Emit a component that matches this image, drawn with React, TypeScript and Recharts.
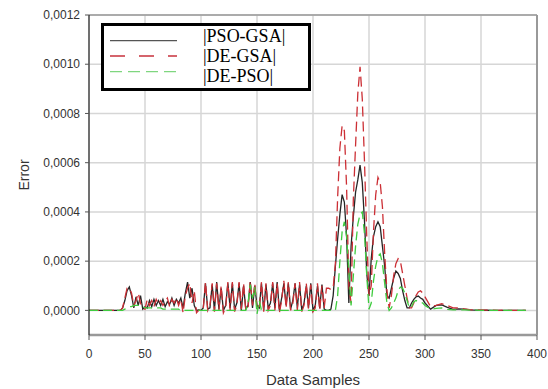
import {
  LineChart,
  Line,
  XAxis,
  YAxis,
  CartesianGrid,
  ReferenceLine,
  Label,
} from "recharts";

// sample index on the x axis
const samples = [
  0, 10, 20, 28,
  30, 32, 34, 36, 38, 40, 42, 44, 46, 48, 50, 52, 54, 56, 58, 60, 62, 64, 66, 68,
  70, 72, 74, 76, 78, 80, 82, 84, 86, 88, 90, 92, 94, 96, 98,
  100, 102, 104, 106, 108, 110, 112, 114, 116, 118, 120, 122, 124, 126, 128, 130,
  132, 134, 136, 138, 140, 142, 144, 146, 148, 150, 152, 154, 156, 158, 160, 162,
  164, 166, 168, 170, 172, 174, 176, 178, 180, 182, 184, 186, 188, 190, 192, 194,
  196, 198, 200, 202, 204, 206, 208, 210, 212, 214, 216, 218,
  220, 222, 224, 226, 228, 230, 232, 234, 236, 238, 240, 242, 244, 246, 248, 250,
  252, 254, 256, 258, 260, 262, 264, 266, 268, 270, 272, 274, 276, 278, 280, 282,
  284, 286, 288, 290, 292, 294, 296, 298, 300,
  305, 310, 315, 320, 325, 330, 335, 340, 345, 350, 355, 360, 365, 370, 375, 380,
  385, 390,
];

// errors, in units of 1e-4
const psoGsa = [
  0, 0, 0, 0,
  0.1, 0.4, 0.8, 0.95, 0.6, 0.1, 0.55, 0.2, 0.6, 0.05,
  0.15, 0.1, 0.4, 0.15, 0.45, 0.2, 0.4, 0.2, 0.45, 0.15,
  0.35, 0.25, 0.5, 0.2, 0.45, 0.3, 0.5, 0.1, 0.7, 1.15,
  0.5, 0.9, 0.2, 0, 0.02,
  0, 0.1, 1.1, 0.05, 0.1, 1.05, 0, 1.15, 0.05, 0.9,
  0, 0.2, 1.1, 0.1, 1.1, 0.05, 0.3, 1.1, 0, 1.0,
  0.05, 0.2, 1.15, 0.1, 1.0, 0.2, 0.1, 1.1, 0, 1.05,
  0.1, 0.3, 1.1, 0.1, 1.15, 0, 0.5, 1.1, 0.2, 1.1,
  0.05, 0.4, 1.1, 0.1, 1.05, 0, 0.3, 1.0, 0.1, 1.1,
  0, 0.2, 1.0, 0.1, 1.05, 0.05, 0, 0, 0.05, 0.6,
  1.8, 2.9, 3.9, 4.7, 4.4, 3.0, 0.3, 2.6, 3.8, 4.8,
  5.3, 5.9, 5.2, 3.6, 1.5, 0.6, 2.1, 3.0, 3.4, 3.6,
  3.4, 2.6, 1.8, 0.6, 0.5, 0.9, 1.3, 1.6, 1.5, 1.3,
  0.8, 0.4, 0.1, 0.1, 0.3, 0.45, 0.55, 0.58, 0.5, 0.45,
  0.3,
  0.05, 0.2, 0.22, 0.12, 0.04, 0.06, 0.05, 0.02, 0.01, 0, 0.01, 0, 0, 0, 0, 0, 0, 0,
];

const deGsa = [
  0, 0, 0, 0,
  0.1, 0.5, 0.9, 0.9, 0.7, 0.2, 0.4, 0.7, 0.3, 0.1,
  0.05, 0.45, 0.2, 0.4, 0.15, 0.45, 0.25, 0.4, 0.2, 0.35,
  0.5, 0.15, 0.45, 0.3, 0.5, 0.2, 0.45, -0.1, 0.6, 0.9,
  1.1, 0.3, 0.8, -0.1, 0,
  0, 0.05, 1.15, 0, 0.2, 1.1, -0.05, 1.1, 0, 1.0,
  -0.1, 0.1, 1.15, 0, 1.15, -0.05, 0.2, 1.15, 0.05, 1.1,
  0, 0.1, 1.2, 0.2, 1.1, 0.1, 0, 1.15, -0.05, 1.1,
  0, 0.2, 1.15, 0, 1.1, -0.1, 0.4, 1.2, 0.1, 1.15,
  0, 0.3, 1.1, 0, 1.15, -0.05, 0.2, 1.1, 0.05, 1.05,
  -0.05, 0.1, 1.1, 0, 1.0, 0.1, 0.9, 0.9, 0.85, 0.9,
  1.9, 4.6, 6.6, 7.5, 7.3, 5.0, 1.0, 0.3, 4.5, 6.7,
  8.8, 9.9, 8.6, 6.0, 3.0, 0.6, 1.0, 3.2, 4.7, 5.4,
  5.2, 4.2, 2.3, 0.8, 0.1, 0.6, 1.4, 1.9, 2.1, 2.0,
  1.5, 1.0, 0.5, 0.1, 0.1, 0.3, 0.6, 0.75, 0.8, 0.7,
  0.55,
  0.15, 0.2, 0.27, 0.2, 0.1, 0.1, 0.06, 0.03, 0.02, 0.02, 0.01, 0.01, 0, 0.01, 0, 0, 0, 0,
];

const dePso = [
  0, 0, 0, 0,
  0, 0.05, 0.1, 0.15, 0.15, 0.2, 0.2, 0.2, 0.2, 0.15,
  0.1, 0.1, 0.1, 0.1, 0.1, 0.1, 0.1, 0.1, 0.05, 0.05,
  0.05, 0.05, 0.05, 0.05, 0.05, 0.05, 0, 0, 0, 0,
  0, 0, 0, 0, 0,
  0, 0, 0, 0, 0, 0, 0, 0, 0, 0,
  0, 0, 0, 0, 0, 0, 0, 0, 0, 0,
  0, 0.3, 1.05, 0.5, 0.95, -0.15, 0.4, 0, 0, 0,
  0, 0, 0, 0, 0, 0, 0, 0, 0, 0,
  0, 0, 0, 0, 0, 0, 0, 0, 0, 0,
  0, 0, 0, 0, 0, 0, 0, 0, 0, 0,
  0, 0.6, 2.0, 3.2, 3.6, 3.0, 1.6, 0.2, 1.4, 2.6,
  3.5, 3.9, 4.0, 3.1, 1.4, 0.05, 0.3, 1.2, 1.8, 2.2,
  2.3, 1.9, 1.1, 0.3, 0, 0.1, 0.3, 0.5, 0.8, 0.95,
  0.9, 0.7, 0.4, 0.1, 0.15, 0.35, 0.4, 0.38, 0.34, 0.3,
  0.2,
  0.05, 0.08, 0.1, 0.04, 0.02, 0.02, 0.02, 0.01, 0.01, 0, 0, 0, 0, 0, 0, 0, 0, 0,
];

const xTicks = [0, 50, 100, 150, 200, 250, 300, 350, 400];
const yTicks = [0, 2, 4, 6, 8, 10, 12];

const series = [
  { key: "psoGsa", name: "|PSO-GSA|", color: "#262626", dash: undefined, legendDash: undefined, legendColor: "#555" },
  { key: "deGsa", name: "|DE-GSA|", color: "#cc2f35", dash: "10 5", legendDash: "15 14", legendColor: "#c8323c" },
  { key: "dePso", name: "|DE-PSO|", color: "#3fcc3f", dash: "9 5", legendDash: "12 6", legendColor: "#7fd67f" },
];

const data = samples.map((x, i) => ({
  x,
  psoGsa: psoGsa[i],
  deGsa: deGsa[i],
  dePso: dePso[i],
}));

const sans = "'Liberation Sans', Arial, sans-serif";

function LegendBox() {
  const lineY = [17.7, 33, 48.7];
  const textY = [19, 39, 59];
  return (
    <svg width={210} height={68} style={{ position: "absolute", left: 101, top: 23 }}>
      <rect x={1.5} y={1.5} width={207} height={65} fill="#fff" stroke="#000" strokeWidth={3} />
      {series.map((s, i) => (
        <g key={s.key}>
          <line
            x1={9}
            x2={76}
            y1={lineY[i]}
            y2={lineY[i]}
            stroke={s.legendColor}
            strokeWidth={1.3}
            strokeDasharray={s.legendDash}
          />
          <text
            x={102}
            y={textY[i]}
            fontFamily="'Liberation Serif', 'Times New Roman', serif"
            fontSize={18}
            fill="#000"
          >
            {s.name}
          </text>
        </g>
      ))}
    </svg>
  );
}

export default function App() {
  return (
    <div style={{ position: "absolute", left: 0, top: 0, width: 548, height: 389, background: "#fff" }}>
      <LineChart
        width={548}
        height={389}
        data={data}
        margin={{ top: 15, right: 11, bottom: 24, left: 29 }}
      >
        <CartesianGrid stroke="#d6d6d6" strokeWidth={1.5} />
        <XAxis
          dataKey="x"
          type="number"
          domain={[0, 400]}
          ticks={xTicks}
          height={30}
          stroke="#999"
          axisLine={{ stroke: "#999", strokeWidth: 2.5 }}
          tickLine={{ stroke: "#555" }}
          tickSize={5}
          tickMargin={9}
          tick={{ fill: "#333", fontSize: 12, fontFamily: sans }}
        >
          <Label
            content={(p: any) => {
              const vb = p.viewBox;
              return (
                <text
                  x={vb.x + vb.width / 2}
                  y={379}
                  textAnchor="middle"
                  dominantBaseline="central"
                  fontSize={15}
                  fontFamily={sans}
                  fill="#333"
                >
                  Data Samples
                </text>
              );
            }}
          />
        </XAxis>
        <YAxis
          type="number"
          domain={[-1, 12]}
          ticks={yTicks}
          width={60}
          axisLine={{ stroke: "#000", strokeWidth: 1 }}
          tickLine={{ stroke: "#555" }}
          tickSize={4}
          tickMargin={5}
          tick={{ fill: "#333", fontSize: 12, fontFamily: sans }}
          tickFormatter={(v: number) => (v / 10000).toFixed(4).replace(".", ",")}
        >
          <Label
            content={(p: any) => {
              const vb = p.viewBox;
              const cy = vb.y + vb.height / 2;
              return (
                <text
                  x={24}
                  y={cy}
                  transform={`rotate(-90 24 ${cy})`}
                  textAnchor="middle"
                  dominantBaseline="central"
                  fontSize={14}
                  fontFamily={sans}
                  fill="#333"
                >
                  Error
                </text>
              );
            }}
          />
        </YAxis>
        <ReferenceLine y={12} stroke="#9a9a9a" strokeWidth={1.5} />
        <ReferenceLine x={400} stroke="#999" strokeWidth={2} />
        {series.map((s) => (
          <Line
            key={s.key}
            dataKey={s.key}
            name={s.name}
            type="linear"
            stroke={s.color}
            strokeWidth={1.3}
            strokeDasharray={s.dash}
            dot={false}
            isAnimationActive={false}
          />
        ))}
      </LineChart>
      <LegendBox />
    </div>
  );
}
